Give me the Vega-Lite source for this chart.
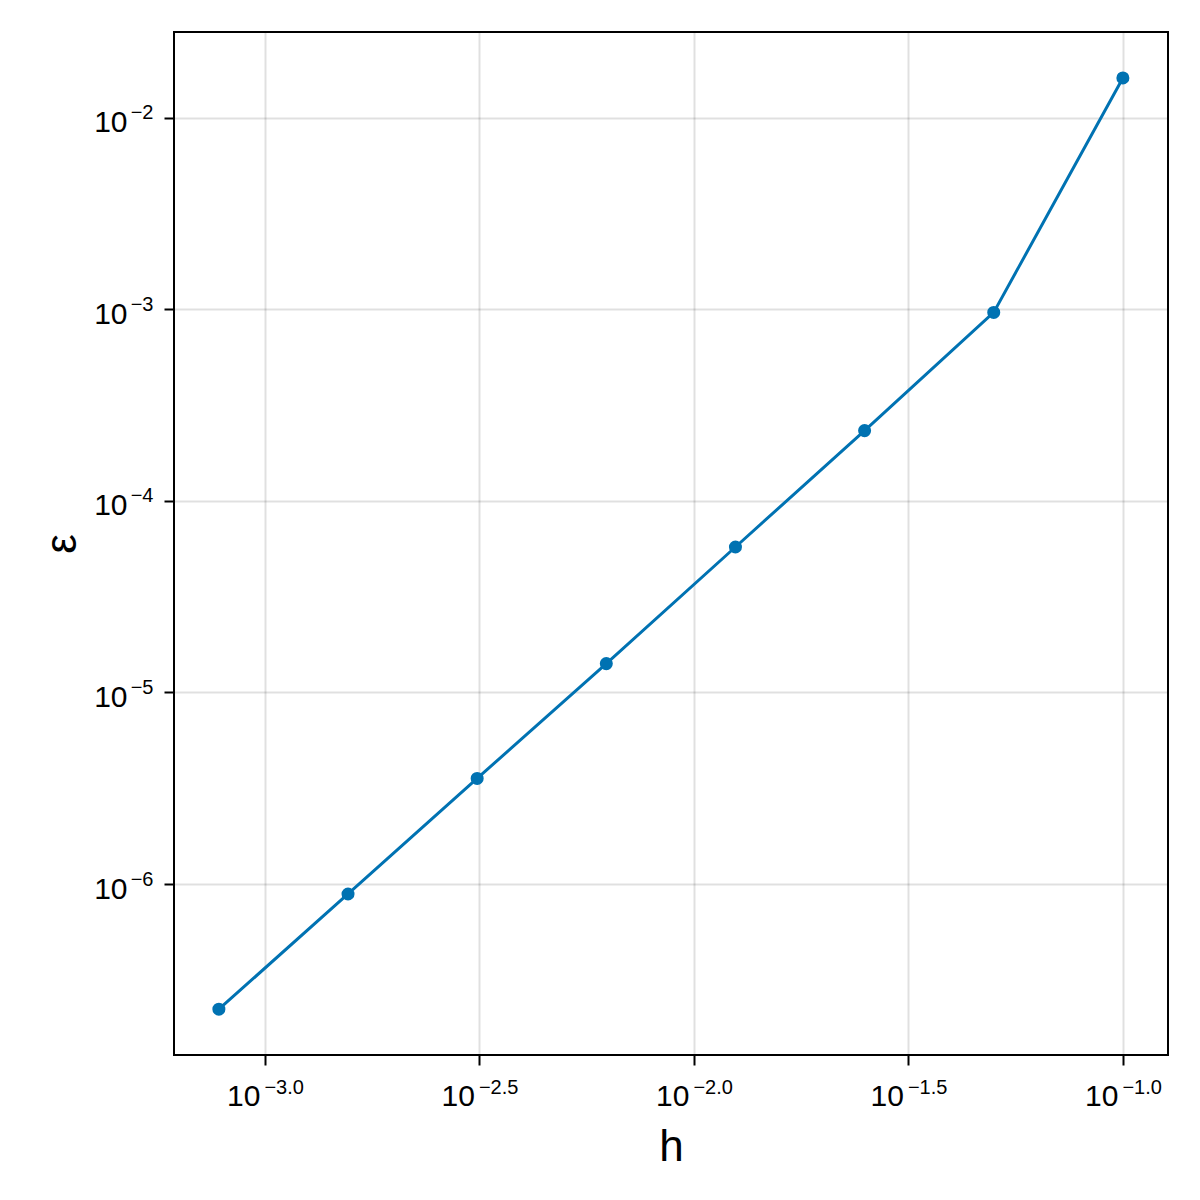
{
  "$schema": "https://vega.github.io/schema/vega-lite/v6.json",
  "width": 994,
  "height": 1023,
  "autosize": {"type": "none"},
  "padding": {"left": 174, "top": 32, "right": 32, "bottom": 145},
  "background": "white",
  "config": {"view": {"stroke": "black", "strokeWidth": 2}, "font": "Liberation Sans"},
  "data": {"values": [
    {"h": 0.1, "e": 0.01618},
    {"h": 0.05, "e": 0.000965},
    {"h": 0.025, "e": 0.000233},
    {"h": 0.0125, "e": 0.0000575},
    {"h": 0.00625, "e": 0.00001415},
    {"h": 0.003125, "e": 0.00000356},
    {"h": 0.0015625, "e": 0.000000887},
    {"h": 0.00078125, "e": 0.000000222}
  ]},
  "layer": [
    {
      "mark": {"type": "line", "color": "#0072B2", "strokeWidth": 3},
      "encoding": {
        "x": {"field": "h", "type": "quantitative",
          "scale": {"type": "log", "domain": [0.000614, 0.1274], "nice": false},
          "axis": {"orient": "bottom", "values": [0.001, 0.0031622776601683794, 0.01, 0.03162277660168379, 0.1],
            "labelExpr": "'10'", "labelAlign": "right", "labelBaseline": "alphabetic", "labelOffset": -5, "labelPadding": 40,
            "labelFontSize": 30, "labelFont": "Liberation Sans", "labelColor": "black", "labelFlush": false, "labelOverlap": false,
            "ticks": true, "tickSize": 10, "tickWidth": 2, "tickColor": "black", "domain": false,
            "grid": true, "gridColor": "black", "gridOpacity": 0.12, "gridWidth": 2,
            "title": "h", "titleFontSize": 44, "titleFontWeight": "normal", "titleFont": "Liberation Sans", "titleColor": "black",
            "titleBaseline": "alphabetic", "titleAlign": "center", "titleX": 497, "titleY": 105}},
        "y": {"field": "e", "type": "quantitative",
          "scale": {"type": "log", "domain": [1.28e-7, 0.0281], "nice": false},
          "axis": {"orient": "left", "values": [0.000001, 0.00001, 0.0001, 0.001, 0.01],
            "labelExpr": "'10'", "labelAlign": "right", "labelBaseline": "alphabetic", "labelOffset": 14, "labelPadding": 37,
            "labelFontSize": 30, "labelFont": "Liberation Sans", "labelColor": "black", "labelFlush": false, "labelOverlap": false,
            "ticks": true, "tickSize": 10, "tickWidth": 2, "tickColor": "black", "domain": false,
            "grid": true, "gridColor": "black", "gridOpacity": 0.12, "gridWidth": 2,
            "title": "ε", "titleFontSize": 44, "titleFontWeight": "normal", "titleFont": "Liberation Sans", "titleColor": "black",
            "titleAngle": -90, "titleBaseline": "alphabetic", "titleAlign": "center", "titleX": -99, "titleY": 511.5}}
      }
    },
    {
      "mark": {"type": "point", "shape": "circle", "filled": true, "color": "#0072B2", "size": 170, "opacity": 1},
      "encoding": {
        "x": {"field": "h", "type": "quantitative",
          "scale": {"type": "log", "domain": [0.000614, 0.1274], "nice": false},
          "axis": {"orient": "bottom", "values": [0.001, 0.0031622776601683794, 0.01, 0.03162277660168379, 0.1],
            "labelExpr": "'−' + format(-log(datum.value)/LN10, '.1f')", "labelAlign": "left", "labelBaseline": "alphabetic",
            "labelOffset": -1, "labelPadding": 38, "labelFontSize": 20, "labelFont": "Liberation Sans", "labelColor": "black",
            "labelFlush": false, "labelOverlap": false, "ticks": false, "domain": false, "grid": false, "title": null}},
        "y": {"field": "e", "type": "quantitative",
          "scale": {"type": "log", "domain": [1.28e-7, 0.0281], "nice": false},
          "axis": {"orient": "left", "values": [0.000001, 0.00001, 0.0001, 0.001, 0.01],
            "labelExpr": "'−' + format(-log(datum.value)/LN10, '.0f')", "labelAlign": "right", "labelBaseline": "alphabetic",
            "labelOffset": 1, "labelPadding": 21, "labelFontSize": 20, "labelFont": "Liberation Sans", "labelColor": "black",
            "labelFlush": false, "labelOverlap": false, "ticks": false, "domain": false, "grid": false, "title": null}}
      }
    }
  ],
  "resolve": {"axis": {"x": "independent", "y": "independent"}}
}
